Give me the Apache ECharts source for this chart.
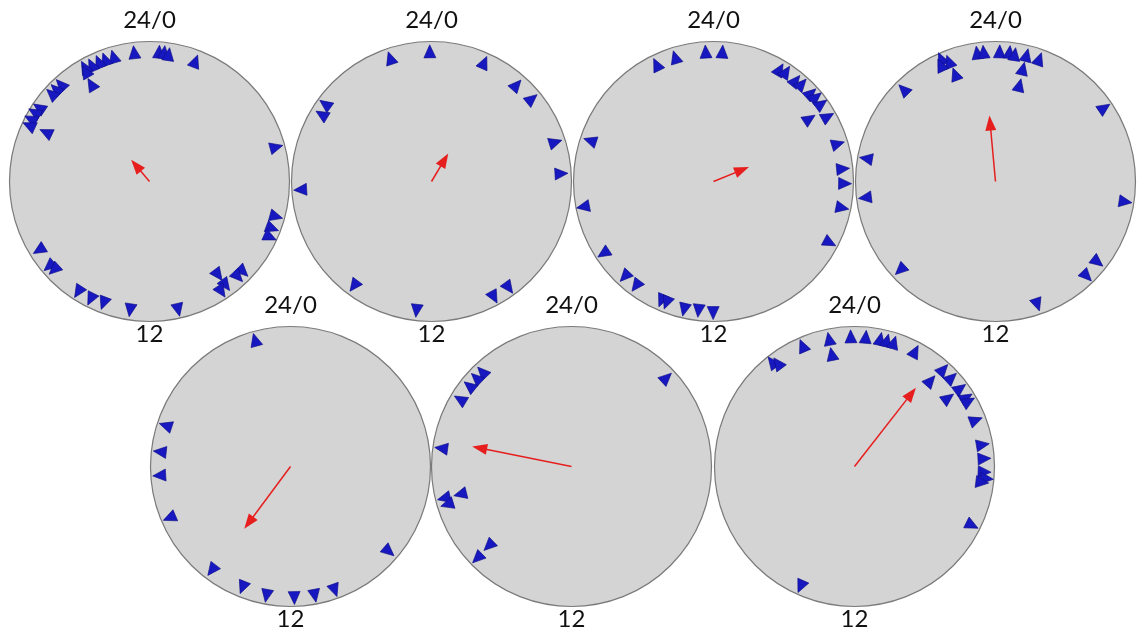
<!DOCTYPE html>
<html><head><meta charset="utf-8">
<script src="https://cdn.jsdelivr.net/npm/echarts@6/dist/echarts.min.js"></script>
<style>html,body{margin:0;padding:0;background:#fff}#c{width:1138px;height:637px}</style>
</head><body><div id="c"></div><script>
// Clock-hour positions (0-24) of the triangles and their relative radial level, per panel
const hours1=[23.55,0.28,0.43,0.57,1.39,22.93,22.67,22.47,22.24,22.03,21.99,21.94,21.17,20.97,20.79,20.25,20.07,19.85,19.66,19.69,4.99,7.03,7.39,7.65,8.93,9.14,9.58,9.58,9.79,15.88,15.32,15.15,14.19,13.77,13.38,12.57,11.16];
const radii1=[.93,.93,.93,.92,.92,.93,.93,.93,.93,.94,.91,.81,.94,.94,.94,.95,.96,.96,.95,.82,.94,.94,.94,.95,.93,.93,.83,.92,.94,.93,.94,.93,.94,.94,.93,.93,.94];
const hours2=[23.95,22.77,1.59,2.76,3.37,20.4,20.09,4.83,5.77,17.76,14.44,12.44,10.11,9.6];
const radii2=[.93,.93,.93,.92,.93,.94,.92,.93,.93,.94,.93,.93,.94,.94];
const hours3=[22.27,22.86,23.77,0.26,2.04,2.23,2.61,2.81,3.19,3.37,3.62,4.03,3.79,4.88,5.63,6.06,6.77,7.85,19.22,17.27,15.79,14.87,14.44,13.57,13.41,12.86,12.44,12.01];
const radii3=[.93,.93,.93,.93,.93,.94,.93,.94,.94,.95,.95,.94,.82,.93,.93,.94,.94,.94,.93,.95,.94,.93,.93,.93,.93,.94,.93,.94];
const hours4=[22.41,22.59,22.32,22.63,23.46,23.65,0.12,0.41,0.57,0.92,1.31,0.91,0.93,21.0,3.73,18.67,17.53,6.59,15.14,8.55,9.07,10.75];
const radii4=[.96,.92,.92,.82,.93,.93,.93,.93,.92,.93,.93,.83,.71,.93,.94,.94,.94,.94,.93,.93,.94,.93];
const hours5=[22.96,19.21,18.43,17.74,16.47,14.48,13.44,12.7,11.89,11.29,10.69,8.72];
const radii5=[.94,.94,.94,.94,.94,.93,.93,.94,.94,.94,.94,.93];
const hours6=[21.11,20.86,20.55,20.07,3.13,18.53,17.07,17.07,16.87,15.08,15.05];
const radii6=[.93,.93,.93,.93,.93,.94,.82,.94,.93,.82,.94];
const hours7=[21.45,21.56,22.45,23.25,23.24,23.89,0.33,0.76,0.96,1.17,1.85,2.83,2.77,3.17,3.57,3.89,4.02,3.59,4.61,5.36,5.77,6.16,6.35,6.47,7.77,13.61];
const radii7=[.95,.92,.94,.93,.82,.93,.93,.93,.93,.93,.93,.94,.82,.94,.94,.94,.94,.83,.93,.93,.93,.93,.95,.92,.94,.94];
// Mean vector (red arrow) per panel: direction in hours, length relative to radius
const arrowHours=[21.33,2.05,4.52,23.65,14.44,18.76,2.53];
const arrowLengths=[0.2,0.23,0.27,0.47,0.55,0.72,0.71];
// Axis tick labels
const tickValues=[0,12];
const tickTexts=['24/0','12'];

const allHours=[hours1,hours2,hours3,hours4,hours5,hours6,hours7];
const allRadii=[radii1,radii2,radii3,radii4,radii5,radii6,radii7];
const centers=[[149.5,181.5],[431.5,181.5],[713.5,181.5],[995.5,181.5],[290.5,466.5],[571.5,466.5],[854.5,466.5]];
const R=140;

const polar=[],angleAxis=[],radiusAxis=[],series=[];
centers.forEach((c,i)=>{
  polar.push({center:c,radius:R});
  angleAxis.push({polarIndex:i,type:'value',min:0,max:24,interval:12,startAngle:90,clockwise:true,
    axisLine:{show:true,lineStyle:{color:'#7a7a7a',width:1.2}},axisTick:{show:false},splitLine:{show:false},
    axisLabel:{show:true,margin:1,fontSize:24,fontFamily:'Lato',color:'#111',
      rich:{t:{fontSize:24,fontFamily:'Lato',color:'#111',padding:[0,0,8,0]},b:{fontSize:24,fontFamily:'Lato',color:'#111'}},
      formatter:v=>{const k=tickValues.indexOf(v);if(k<0||v===24)return '';return k===0?'{t|'+tickTexts[k]+'}':'{b|'+tickTexts[k]+'}';}}});
  radiusAxis.push({polarIndex:i,type:'value',min:0,max:1,interval:1,axisLine:{show:false},axisTick:{show:false},
    axisLabel:{show:false},splitLine:{show:false},splitArea:{show:true,areaStyle:{color:['#d4d4d4']}}});
  series.push({type:'scatter',coordinateSystem:'polar',polarIndex:i,symbol:'triangle',symbolSize:[12,13],
    itemStyle:{color:'#1818c0',borderColor:'#0c0c88',borderWidth:0.6,opacity:1},z:3,
    data:allHours[i].map((h,j)=>({value:[allRadii[i][j],h],symbolRotate:-h*15}))});
  const h=arrowHours[i],L=arrowLengths[i];
  series.push({type:'line',coordinateSystem:'polar',polarIndex:i,showSymbol:true,z:4,
    lineStyle:{color:'#e61e1e',width:1.5},itemStyle:{color:'#e61e1e'},
    data:[{value:[0,h],symbol:'none'},{value:[L-7/R,h],symbol:'triangle',symbolSize:[11,15],symbolRotate:-h*15}]});
});
const chart=echarts.init(document.getElementById('c'));
chart.setOption({animation:false,backgroundColor:'#fff',polar,angleAxis,radiusAxis,series});
</script></body></html>
